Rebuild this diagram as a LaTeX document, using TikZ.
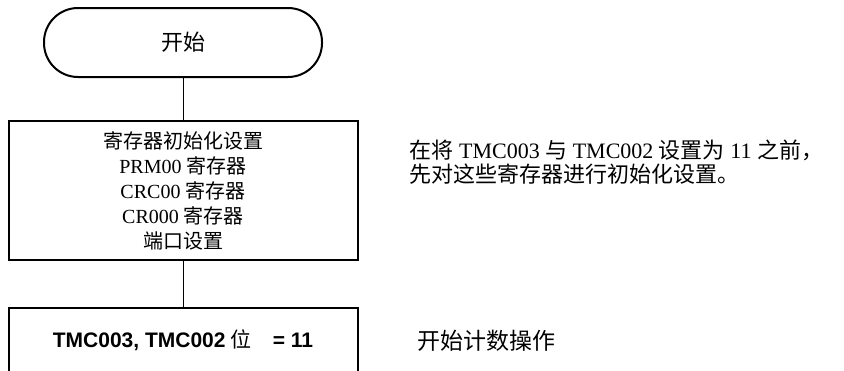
\documentclass[tikz,border=0pt]{standalone}
\usepackage{fontspec}
\setmainfont{Liberation Serif}
\setsansfont{Liberation Sans}
\newfontfamily\cjk{Noto Sans CJK SC}
\usepackage{tikz}
\usetikzlibrary{positioning}

\begin{document}
\begin{tikzpicture}[
        font = \fontsize{10pt}{12.5pt}\selectfont,
        term/.style = {draw, line width=1pt, rounded corners=17pt, minimum width=139pt, minimum height=34.5pt, inner sep=0pt, font=\fontsize{11pt}{13pt}\selectfont},
        box/.style  = {draw, line width=1pt, minimum width=174.5pt, align=center, inner sep=0pt},
        link/.style = {line width=0.5pt},
        note/.style = {anchor=west, align=left, font=\fontsize{11pt}{12pt}\selectfont},
    ]
        \useasboundingbox (0,0) rectangle (422pt,-185pt);
        \node[term] (start) at (91.5pt,-21.25pt) {\cjk 开始};
        \node[box, minimum height=69.5pt, below=21pt of start] (init) {{\cjk 寄存器初始化设置}\\PRM00 {\cjk 寄存器}\\CRC00 {\cjk 寄存器}\\CR000 {\cjk 寄存器}\\{\cjk 端口设置}};
        \node[box, minimum height=32.5pt, below=23pt of init, font=\fontsize{10.5pt}{12.5pt}\selectfont] (tmc) {{\sffamily\bfseries TMC003, TMC002} {\cjk 位}\quad{\sffamily\bfseries = 11}};
        \node[note, right=22pt of init, yshift=14.25pt] (initnote) {{\cjk 在将} TMC003 {\cjk 与} TMC002 {\cjk 设置为} 11 {\cjk 之前，}\\{\cjk 先对这些寄存器进行初始化设置。}};
        \node[note, right=26pt of tmc, font=\fontsize{11.5pt}{13pt}\selectfont] (tmcnote) {\cjk 开始计数操作};
        \draw[link] (start) -- (init);
        \draw[link] (init) -- (tmc);
    \end{tikzpicture}
\end{document}
